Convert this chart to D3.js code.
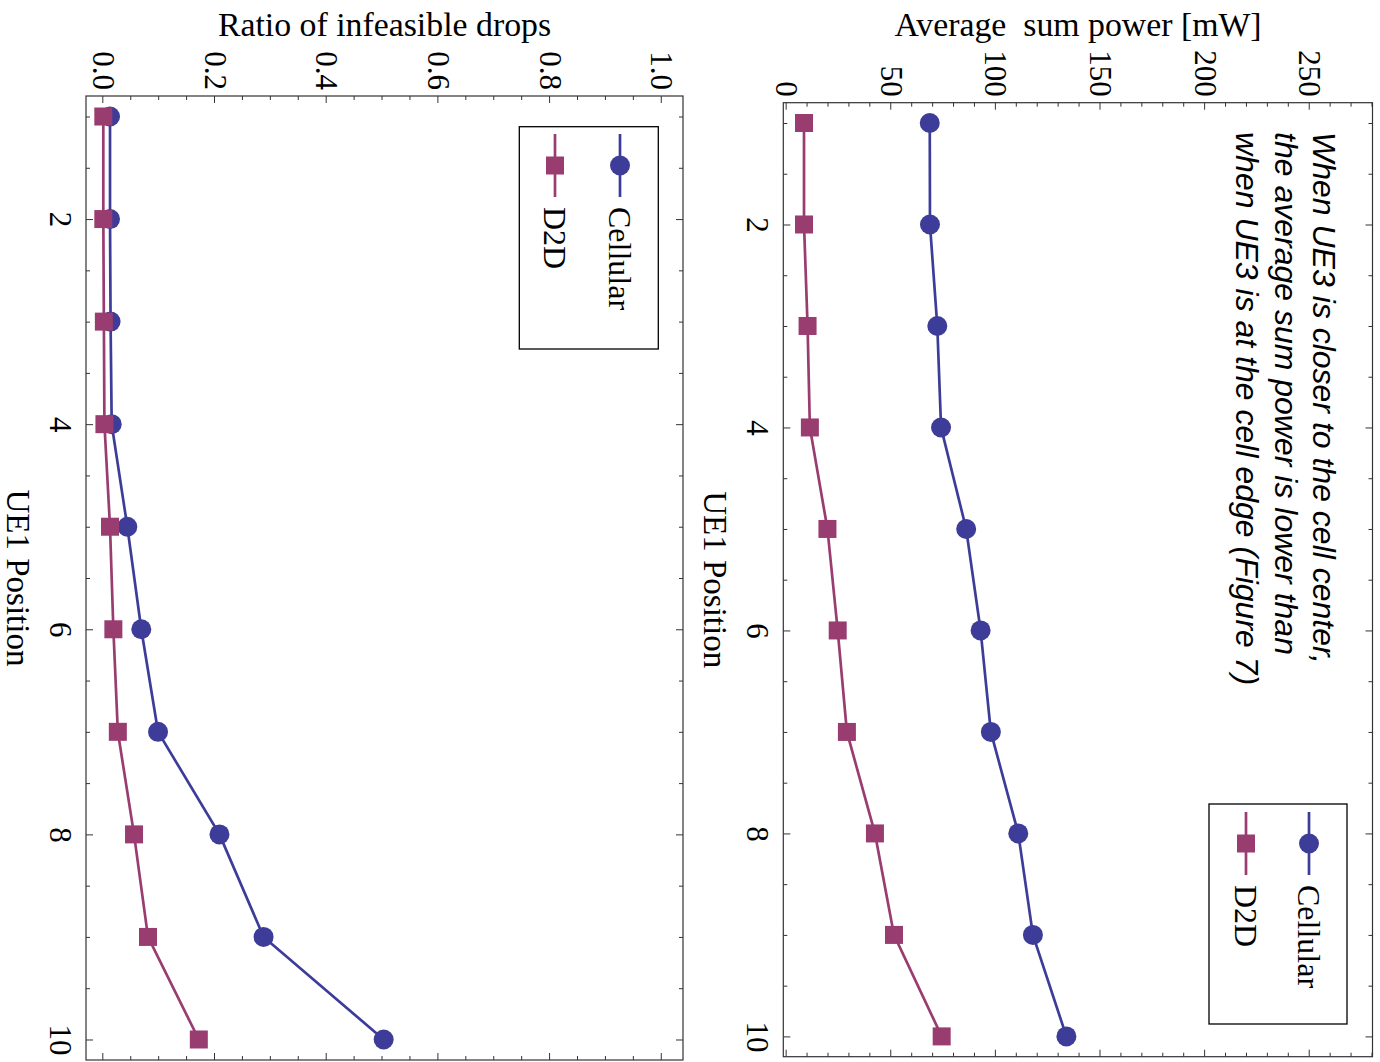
<!DOCTYPE html>
<html>
<head>
<meta charset="utf-8">
<script src="https://cdn.jsdelivr.net/npm/d3@7"></script>
<style>
body { margin: 0; background: #fff; }
text { fill: #000; }
</style>
</head>
<body>
<svg id="chart" width="1380" height="1062"></svg>
<script>
// data
var positions = [1, 2, 3, 4, 5, 6, 7, 8, 9, 10];
var powerCellular = [68.4, 68.5, 72.0, 73.8, 85.8, 92.7, 97.6, 110.7, 117.7, 133.7];
var powerD2D = [8.3, 8.3, 10.0, 11.1, 19.5, 24.4, 28.8, 42.2, 51.3, 74.1];
var ratioCellular = [0.012, 0.012, 0.013, 0.015, 0.043, 0.068, 0.098, 0.208, 0.287, 0.502];
var ratioD2D = [0.0, 0.0, 0.001, 0.002, 0.012, 0.018, 0.026, 0.055, 0.080, 0.171];
var powerTicks = [0, 50, 100, 150, 200, 250];
var ratioTicks = [0, 0.2, 0.4, 0.6, 0.8, 1.0];
var positionTicks = [2, 4, 6, 8, 10];
var seriesNames = ['Cellular', 'D2D'];
var noteLines = ['When UE3 is closer to the cell center,',
                 'the average sum power is lower than',
                 'when UE3 is at the cell edge (Figure 7)'];

var colors = ['#3d3d99', '#993d71'];
var serif = 'Liberation Serif, Times New Roman, serif';
var frameColor = '#333';

var svg = d3.select('#chart');
svg.append('rect').attr('width', 1380).attr('height', 1062).attr('fill', '#fff');

// the whole plot is drawn upright and turned a quarter clockwise
var root = svg.append('g').attr('transform', 'translate(1380,0) rotate(90)');

function range(a, b, step) {
    var out = [];
    for (var v = a; v <= b + 1e-9; v += step) out.push(+v.toFixed(4));
    return out;
}

function drawPanel(o) {
    var g = root.append('g');
    var x = d3.scaleLinear().domain([0.8, 10.2]).range([o.left, o.right]);
    var y = d3.scaleLinear().domain(o.yDomain).range([o.bottom, o.top]);

    var minorX = range(1, 10, 0.5).filter(function (v) { return positionTicks.indexOf(v) < 0; });
    var minorY = range(o.minorStart, o.yDomain[1], o.minorStep).filter(function (v) {
        return o.yTicks.every(function (t) { return Math.abs(t - v) > 1e-6; });
    });

    function addAxis(axis, tx, ty, labels) {
        var a = g.append('g').attr('transform', 'translate(' + tx + ',' + ty + ')').call(axis);
        a.select('.domain').remove();
        a.selectAll('line').attr('stroke', frameColor).attr('stroke-width', 1);
        if (!labels) a.selectAll('text').remove();
        return a;
    }

    // position axis (bottom) and its mirror (top)
    var xb = addAxis(d3.axisBottom(x).tickValues(positionTicks).tickSize(-7).tickSizeOuter(0)
        .tickFormat(d3.format('d')), 0, o.bottom, true);
    xb.selectAll('text').attr('y', 36.5).attr('dy', 0)
        .attr('font-family', serif).attr('font-size', 31);
    addAxis(d3.axisBottom(x).tickValues(minorX).tickSize(-4).tickSizeOuter(0), 0, o.bottom, false);
    addAxis(d3.axisTop(x).tickValues(positionTicks).tickSize(-7).tickSizeOuter(0), 0, o.top, false);
    addAxis(d3.axisTop(x).tickValues(minorX).tickSize(-4).tickSizeOuter(0), 0, o.top, false);

    // value axis (left) and its mirror (right)
    var yl = addAxis(d3.axisLeft(y).tickValues(o.yTicks).tickSize(-7).tickSizeOuter(0)
        .tickPadding(6).tickFormat(o.format), o.left, 0, true);
    yl.selectAll('text').attr('font-family', serif).attr('font-size', 31);
    addAxis(d3.axisLeft(y).tickValues(minorY).tickSize(-4).tickSizeOuter(0), o.left, 0, false);
    addAxis(d3.axisRight(y).tickValues(o.yTicks).tickSize(-7).tickSizeOuter(0), o.right, 0, false);
    addAxis(d3.axisRight(y).tickValues(minorY).tickSize(-4).tickSizeOuter(0), o.right, 0, false);

    g.append('rect')
        .attr('x', o.left).attr('y', o.top)
        .attr('width', o.right - o.left).attr('height', o.bottom - o.top)
        .attr('fill', 'none').attr('stroke', frameColor).attr('stroke-width', 1.2);

    g.append('text')
        .attr('x', (o.left + o.right) / 2).attr('y', o.labelY)
        .attr('text-anchor', 'middle')
        .attr('font-family', serif).attr('font-size', 33)
        .text('UE1 Position');

    var line = d3.line()
        .x(function (d, i) { return x(positions[i]); })
        .y(function (d) { return y(d); });

    o.series.forEach(function (vals, k) {
        g.append('path').datum(vals)
            .attr('d', line).attr('fill', 'none')
            .attr('stroke', colors[k]).attr('stroke-width', 2.7);
    });
    o.series.forEach(function (vals, k) {
        var pts = g.append('g').selectAll('.pt').data(vals).enter();
        if (k === 0) {
            pts.append('circle')
                .attr('cx', function (d, i) { return x(positions[i]); })
                .attr('cy', function (d) { return y(d); })
                .attr('r', 10).attr('fill', colors[0]);
        } else {
            pts.append('rect')
                .attr('x', function (d, i) { return x(positions[i]) - 9; })
                .attr('y', function (d) { return y(d) - 9; })
                .attr('width', 18).attr('height', 18).attr('fill', colors[1]);
        }
    });

    // legend
    var lg = o.legend;
    g.append('rect')
        .attr('x', lg.x0).attr('y', lg.y0)
        .attr('width', lg.x1 - lg.x0).attr('height', lg.y1 - lg.y0)
        .attr('fill', '#fff').attr('stroke', '#000').attr('stroke-width', 1.3);
    seriesNames.forEach(function (name, k) {
        var cy = lg.rows[k];
        g.append('line')
            .attr('x1', lg.lineX0).attr('x2', lg.lineX0 + 63)
            .attr('y1', cy).attr('y2', cy)
            .attr('stroke', colors[k]).attr('stroke-width', 2.7);
        var cx = lg.lineX0 + 31.5;
        if (k === 0) {
            g.append('circle').attr('cx', cx).attr('cy', cy).attr('r', 10).attr('fill', colors[0]);
        } else {
            g.append('rect').attr('x', cx - 9).attr('y', cy - 9)
                .attr('width', 18).attr('height', 18).attr('fill', colors[1]);
        }
        g.append('text')
            .attr('x', lg.lineX0 + 73).attr('y', cy).attr('dy', '0.35em')
            .attr('font-family', serif).attr('font-size', 32)
            .text(name);
    });

    return g;
}

// power panel (right side of the picture)
var powerPanel = drawPanel({
    left: 102.7, right: 1056.7, top: 7.5, bottom: 596.7,
    yDomain: [-1.6, 280], yTicks: powerTicks, minorStart: 10, minorStep: 10,
    format: d3.format('d'),
    labelY: 676,
    series: [powerCellular, powerD2D],
    legend: { x0: 804, x1: 1024, y0: 33, y1: 171, lineX0: 812, rows: [71, 134] }
});

powerPanel.append('g').selectAll('text').data(noteLines).enter()
    .append('text')
    .attr('x', 132)
    .attr('y', function (d, i) { return 67 + i * 38.5; })
    .attr('font-family', 'Liberation Sans, Arial, sans-serif')
    .attr('font-style', 'italic')
    .attr('font-size', 32)
    .text(function (d) { return d; });

// infeasible ratio panel (left side of the picture)
drawPanel({
    left: 96, right: 1060, top: 697, bottom: 1294,
    yDomain: [-0.031, 1.038], yTicks: ratioTicks, minorStart: 0.05, minorStep: 0.05,
    format: d3.format('.1f'),
    labelY: 1373,
    series: [ratioCellular, ratioD2D],
    legend: { x0: 126.7, x1: 349, y0: 721.7, y1: 860.7, lineX0: 134, rows: [760, 825] }
});

// axis titles read horizontally in the picture
svg.append('text')
    .attr('x', 1078).attr('y', 36)
    .attr('text-anchor', 'middle')
    .attr('font-family', serif).attr('font-size', 33.8)
    .style('white-space', 'pre')
    .text('Average  sum power [mW]');
svg.append('text')
    .attr('x', 384.5).attr('y', 36)
    .attr('text-anchor', 'middle')
    .attr('font-family', serif).attr('font-size', 33.8)
    .text('Ratio of infeasible drops');
</script>
</body>
</html>
